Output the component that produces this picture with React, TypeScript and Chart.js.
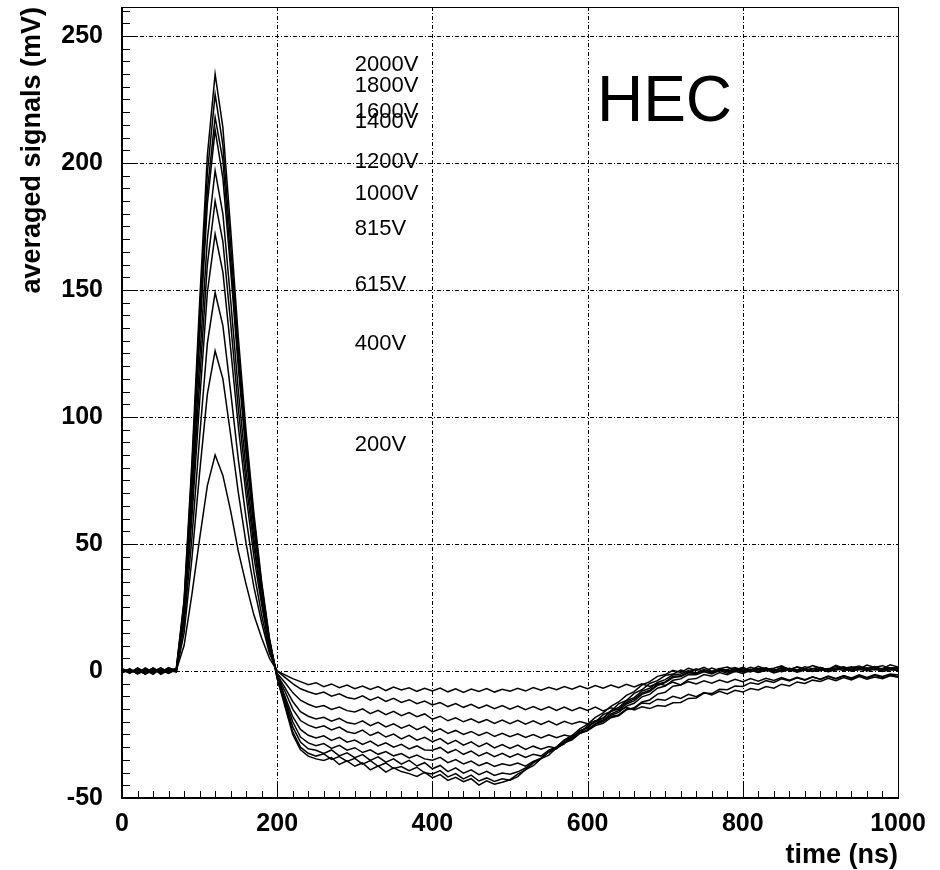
import React, { useEffect, useRef } from 'react';
import { Chart, registerables } from 'chart.js';
Chart.register(...registerables);

const FONT = '"Liberation Sans", Arial, Helvetica, sans-serif';

const timesNs = [
  0, 10, 20, 30, 40, 50, 60, 70, 80, 90,
  100, 110, 120, 130, 140, 150, 160, 170, 180, 190,
  200, 210, 220, 230, 240, 250, 260, 270, 280, 290,
  300, 310, 320, 330, 340, 350, 360, 370, 380, 390,
  400, 410, 420, 430, 440, 450, 460, 470, 480, 490,
  500, 510, 520, 530, 540, 550, 560, 570, 580, 590,
  600, 610, 620, 630, 640, 650, 660, 670, 680, 690,
  700, 710, 720, 730, 740, 750, 760, 770, 780, 790,
  800, 810, 820, 830, 840, 850, 860, 870, 880, 890,
  900, 910, 920, 930, 940, 950, 960, 970, 980, 990,
  1000,
];

const voltageLabels = ['2000V', '1800V', '1600V', '1400V', '1200V', '1000V', '815V', '615V', '400V', '200V'];
const labelLevels = [238.5, 230.5, 220, 216, 200.6, 188, 174, 152, 128.6, 88.8];
const labelTimeNs = 300;

const xTicks = [0, 200, 400, 600, 800, 1000];
const yTicks = [-50, 0, 50, 100, 150, 200, 250];

const v2000 = [0.6, -0.9, 1.2, -0.5, 1.1, -1.3, 0.4, 1, 28, 82,
  145, 203, 235, 214, 174, 131, 94, 62, 35, 13,
  -3, -14, -25, -31, -33.5, -34.6, -35.2, -34.1, -36.8, -35.4,
  -37.5, -36.2, -38.9, -37.4, -39.8, -38.1, -39.6, -40.4, -41.5, -39.9,
  -42, -40.8, -43.1, -41.9, -43.6, -42.4, -44.9, -43.2, -44.6, -43.8,
  -42.8, -40.6, -38.9, -36.2, -34.4, -31.8, -29.9, -27.1, -25.4, -22.8,
  -20.9, -18.3, -16.5, -13.9, -12.2, -9.6, -8.1, -5.5, -4.2, -2.1,
  -1.4, 0.3, -0.6, 1.1, 0.2, 1.4, -0.1, 0.9, 1.6, 0.4,
  1.5, 0.2, 1.8, 0.7, 1.1, 2, 0.5, 1.7, 0.9, 2.1,
  1.2, 0.6, 2.2, 1, 1.7, 0.8, 2.3, 1.4, 0.9, 2.4,
  1.6];

const v1800 = [-0.7, 0.9, -1.1, 0.6, -0.4, 1.2, -0.8, 0.8, 27, 79,
  140, 196, 227, 207, 168, 126, 91, 60, 34, 12,
  -3, -13, -24, -30, -32.4, -33.5, -32.6, -34.8, -33.7, -35.6,
  -34.4, -36.7, -35.3, -37.5, -36.2, -38.4, -37.6, -39.2, -37.9, -40.1,
  -40.5, -39.2, -41.7, -40.4, -42.5, -41, -43.3, -42.1, -43.5, -42.4,
  -43, -41.6, -38.8, -37.3, -34.5, -33.1, -30.2, -28.7, -25.8, -24.4,
  -21.5, -20.1, -17.2, -15.9, -12.9, -11.6, -8.8, -7.4, -4.9, -3.8,
  -1.8, -1.2, 0.4, -0.5, 0.9, -0.2, 1.2, 0.1, 0.6, 1.4,
  0.3, 1.5, 0.6, 1.1, -0.1, 1.6, 0.8, 0.3, 1.7, 0.9,
  1.4, 0.5, 1.9, 0.8, 1.3, 2, 0.7, 1.5, 2.1, 1.1,
  1.3];

const v1600 = [0.4, -0.6, 1, -1.2, 0.3, -0.5, 1.3, 0, 26, 76,
  135, 189, 218, 201, 162, 122, 88, 58, 33, 12,
  -2, -12, -22, -28, -30.6, -31.2, -32.5, -31.1, -33.4, -32.2,
  -34.1, -32.9, -35.2, -33.8, -35.9, -34.6, -36.7, -35.2, -37.4, -36.1,
  -38.5, -37.2, -39.6, -38.1, -40.2, -38.9, -40.8, -39.5, -41.1, -40.2,
  -40.6, -39.7, -38.2, -35.9, -34.5, -31.9, -30.6, -27.8, -26.5, -23.7,
  -22.4, -19.6, -18.5, -15.6, -14.4, -11.7, -10.5, -7.9, -6.8, -4.5,
  -3.4, -1.5, -1.2, 0.2, -0.8, 0.6, -0.4, 1, 0.2, -0.3,
  1.1, 0, 0.8, 1.3, 0.1, 1.2, 0.5, 1.5, 0.2, 0.9,
  1.4, 0.3, 1.2, 1.7, 0.6, 1.5, 0.9, 1.8, 0.5, 1.3,
  1];

const v1400 = [-0.5, 0.7, -0.9, 0.4, -1.3, 1, -0.6, 0.5, 25, 74,
  131, 184, 213, 194, 158, 119, 85, 56, 32, 12,
  -2, -11, -20, -26, -28.3, -29.4, -28.6, -30.5, -29.3, -31.2,
  -30.2, -32.1, -31, -32.8, -31.7, -33.4, -32.5, -34.2, -33.1, -34.6,
  -35.1, -34, -36.1, -34.9, -36.6, -35.5, -37.3, -36.1, -37.6, -36.5,
  -37.2, -36.2, -37.5, -35.6, -34.3, -31.9, -30.6, -28.2, -26.9, -24.4,
  -23.1, -20.7, -19.3, -16.9, -15.6, -13, -11.8, -9.2, -8.1, -5.7,
  -4.6, -2.6, -2.2, -0.7, -1, 0.4, -0.8, 0.6, -0.3, 0.9,
  0.2, -0.4, 1, 0.1, 0.7, -0.2, 1.1, 0.3, 0.9, 0,
  1.2, 0.4, 0.8, 1.4, 0.2, 1.1, 0.6, 1.5, 0.3, 1,
  0.8];

const v1200 = [0.8, -0.4, 0.5, -1.1, 0.9, -0.2, 0.3, -0.4, 23, 69,
  122, 170, 197, 180, 146, 110, 79, 52, 29, 11,
  -2, -10, -18, -23, -25.3, -26.4, -25.5, -27.3, -26.1, -28,
  -27.2, -28.9, -27.6, -29.5, -28.3, -30, -28.9, -30.7, -29.5, -31.1,
  -31.2, -30.1, -32.2, -30.9, -32.8, -31.5, -33.4, -32.1, -33.7, -32.4,
  -33.9, -32.6, -34, -32.8, -33.5, -31.2, -29.9, -27.3, -26.1, -23.5,
  -22.3, -19.8, -18.6, -16, -14.9, -12.4, -11.1, -8.7, -7.6, -5.2,
  -4.3, -2.2, -1.9, -0.4, -1.1, 0.3, -0.7, 0.5, -0.2, 0.8,
  -0.3, 0.7, 0, 0.9, -0.2, 0.6, 1, -0.1, 0.8, 0.3,
  0.1, 1, 0.4, 1.2, 0.2, 0.7, 1.3, 0.4, 1, 0.6,
  0.6];

const v1000 = [-0.3, 0.6, -0.8, 1.2, -0.5, 0.4, -1, 0.6, 22, 65,
  114, 160, 185, 169, 137, 103, 74, 49, 28, 10,
  -2, -8, -15, -19.5, -21.3, -22.4, -21.6, -23.2, -22.1, -23.9,
  -24.6, -23.3, -25.4, -24.1, -26, -24.8, -26.7, -25.3, -27.2, -26.1,
  -27.8, -26.6, -28.7, -27.3, -29.2, -27.9, -29.8, -28.4, -30.3, -29,
  -30.5, -29.2, -30.9, -29.6, -30.8, -29.7, -30.4, -28.3, -27.1, -24.6,
  -23.5, -21, -19.9, -17.4, -16.3, -13.8, -12.7, -10.2, -9.2, -6.8,
  -5.9, -3.6, -3.1, -1.4, -1.5, -0.3, -1.2, 0.2, -0.9, 0.3,
  -0.4, 0.6, -0.5, 0.2, 0.7, -0.3, 0.5, -0.1, 0.8, 0.1,
  0.6, -0.2, 0.9, 0.2, 0.7, 1, 0, 0.8, 0.3, 1.1,
  0.5];

const v815 = [0.5, -0.7, 0.3, -1.2, 0.8, -0.9, 1.1, -0.2, 20, 60,
  106, 149, 172, 157, 127, 96, 69, 45, 26, 9,
  -1.5, -6.5, -12, -16, -17.8, -18.9, -18.2, -19.8, -18.6, -20.3,
  -20.9, -19.6, -21.5, -20.2, -22, -20.8, -22.5, -21.3, -23.1, -21.8,
  -24, -22.8, -24.6, -23.4, -25, -23.8, -25.4, -24.1, -25.8, -24.5,
  -25.9, -24.7, -26.2, -25, -26.4, -25.1, -26.3, -25.2, -25.9, -24.4,
  -23.5, -21.5, -20.6, -18.4, -17.6, -15.3, -14.5, -12.2, -11.4, -9.1,
  -8.4, -6, -5.5, -3.3, -3, -1.4, -2.1, -0.6, -1.5, -0.1,
  -1, 0.3, -0.6, 0.5, -0.8, 0.1, 0.6, -0.5, 0.4, -0.2,
  0.7, -0.3, 0.5, 0.9, -0.1, 0.6, 0.2, 0.9, -0.2, 0.5,
  0.2];

const v615 = [-0.6, 0.3, -0.9, 0.7, -0.2, 1.1, -0.4, 0.2, 18, 52,
  92, 129, 149, 136, 110, 83, 60, 39, 22, 8,
  -1, -4.5, -8.5, -11.5, -13.1, -14.3, -13.6, -15.1, -14.2, -15.6,
  -16.1, -14.9, -16.8, -15.5, -17.2, -15.9, -17.6, -16.4, -18, -16.9,
  -19, -17.8, -19.6, -18.4, -20, -18.8, -20.3, -19.1, -20.6, -19.3,
  -20.7, -19.4, -20.9, -19.6, -21, -19.7, -21.2, -19.8, -20.9, -19.9,
  -20.8, -19.6, -19.8, -17.9, -17.3, -15, -14.8, -12.6, -12.9, -11.1,
  -11.5, -10, -10.8, -9.2, -10.1, -8.5, -9.4, -8, -9, -7.6,
  -8.3, -6.9, -7.5, -6.1, -6.8, -5.2, -5.9, -4.3, -4.9, -3.6,
  -4.1, -2.9, -3.8, -2.6, -3.5, -2.2, -3.2, -2.4, -3, -1.9,
  -2.5];

const v400 = [0.9, -0.3, 0.6, -0.7, 1.2, -0.5, 0.8, -0.1, 15, 44,
  78, 109, 126, 115, 93, 70, 50, 33, 19, 7,
  0, -2.5, -5, -7, -8.2, -9.1, -8.3, -9.9, -9, -10.4,
  -11, -9.8, -11.5, -10.3, -12, -10.8, -12.4, -11.3, -12.9, -11.8,
  -13.4, -12.4, -14, -12.8, -14.3, -13.1, -14.6, -13.4, -14.8, -13.6,
  -15, -13.8, -15.2, -14, -15.3, -14.1, -15.5, -14.2, -15.6, -14.4,
  -15.5, -14.2, -15.7, -14.5, -15.4, -14.3, -15.3, -14.1, -14.8, -13.6,
  -13.9, -12.5, -12.4, -10.8, -10.6, -8.7, -8.9, -7.2, -7.4, -5.9,
  -6.1, -4.6, -5.2, -3.8, -4.5, -3.1, -3.9, -2.7, -3.6, -2.4,
  -3.2, -2, -2.9, -1.8, -2.7, -1.5, -2.5, -1.4, -2.2, -1.2,
  -1.6];

const v200 = [-0.4, 0.7, -1.1, 0.3, -0.9, 0.6, -0.2, 0.4, 10, 30,
  52, 73, 85, 77, 63, 47, 34, 22, 13, 5,
  0, -1.5, -3, -4.2, -5.4, -4.6, -6.2, -5.1, -6.6, -5.5,
  -7, -5.9, -7.3, -6.1, -7.7, -6.3, -7.5, -6.6, -8, -6.8,
  -7.9, -6.7, -8.2, -7, -8.4, -7.1, -8.1, -6.9, -8.3, -7.2,
  -8, -6.8, -7.9, -6.5, -7.6, -6.4, -7.4, -6.1, -7.2, -5.9,
  -7, -5.7, -6.8, -5.5, -6.6, -5.2, -6.3, -5, -6.1, -4.8,
  -5.7, -4.4, -5.5, -4.2, -5.1, -3.9, -4.8, -3.6, -4.5, -3.3,
  -4.2, -3, -4, -2.9, -3.7, -2.6, -3.6, -2.5, -3.4, -2.3,
  -3.3, -2.2, -3.1, -2, -3, -1.9, -2.8, -1.7, -2.6, -1.6,
  -2.2];

const seriesValues = [v2000, v1800, v1600, v1400, v1200, v1000, v815, v615, v400, v200];

export default function App() {
  const ref = useRef<HTMLCanvasElement>(null);

  useEffect(() => {
    document.body.style.margin = '0';
    const canvas = ref.current;
    if (!canvas) return;

    const rootPlugin = {
      id: 'rootStyle',
      beforeDatasetsDraw(chart: any) {
        const { ctx, chartArea: a, scales } = chart;
        const xs = scales.x;
        const ys = scales.y;
        ctx.save();
        ctx.strokeStyle = '#000';
        ctx.lineWidth = 1;
        ctx.setLineDash([4, 2, 1, 2]);
        ctx.beginPath();
        for (const t of xTicks) {
          const px = Math.round(xs.getPixelForValue(t)) + 0.5;
          ctx.moveTo(px, a.top);
          ctx.lineTo(px, a.bottom);
        }
        for (const v of yTicks) {
          const py = Math.round(ys.getPixelForValue(v)) + 0.5;
          ctx.moveTo(a.left, py);
          ctx.lineTo(a.right, py);
        }
        ctx.stroke();
        ctx.restore();
      },
      afterDatasetsDraw(chart: any) {
        const { ctx, chartArea: a, scales } = chart;
        const xs = scales.x;
        const ys = scales.y;
        ctx.save();
        ctx.setLineDash([]);
        ctx.strokeStyle = '#000';
        // frame
        ctx.lineWidth = 1;
        ctx.beginPath();
        ctx.moveTo(a.left, Math.round(a.top) + 0.5);
        ctx.lineTo(a.right, Math.round(a.top) + 0.5);
        ctx.moveTo(Math.round(a.right) + 0.5, a.top);
        ctx.lineTo(Math.round(a.right) + 0.5, a.bottom);
        ctx.stroke();
        ctx.lineWidth = 2;
        ctx.beginPath();
        ctx.moveTo(Math.round(a.left), a.top);
        ctx.lineTo(Math.round(a.left), a.bottom + 1);
        ctx.moveTo(a.left - 1, Math.round(a.bottom));
        ctx.lineTo(a.right + 1, Math.round(a.bottom));
        ctx.stroke();
        // ticks
        ctx.lineWidth = 1;
        ctx.beginPath();
        for (let t = 0; t <= 1000; t += 20) {
          const px = Math.round(xs.getPixelForValue(t)) + 0.5;
          const len = t % 200 === 0 ? 14 : 7;
          ctx.moveTo(px, a.bottom);
          ctx.lineTo(px, a.bottom - len);
        }
        for (let v = -50; v <= 261; v += 5) {
          const py = Math.round(ys.getPixelForValue(v)) + 0.5;
          const len = v % 50 === 0 ? 15 : 8;
          ctx.moveTo(a.left, py);
          ctx.lineTo(a.left + len, py);
        }
        ctx.stroke();

        // voltage labels
        ctx.fillStyle = '#000';
        ctx.font = `22px ${FONT}`;
        ctx.textAlign = 'left';
        ctx.textBaseline = 'middle';
        voltageLabels.forEach((lab, i) => {
          ctx.fillText(lab, xs.getPixelForValue(labelTimeNs), ys.getPixelForValue(labelLevels[i]));
        });

        // HEC
        ctx.font = `64px ${FONT}`;
        ctx.textBaseline = 'alphabetic';
        ctx.fillText('HEC', xs.getPixelForValue(612), ys.getPixelForValue(216.4));

        // axis titles
        ctx.font = `bold 27px ${FONT}`;
        ctx.textAlign = 'right';
        ctx.textBaseline = 'alphabetic';
        ctx.fillText('time (ns)', a.right, a.bottom + 65);

        ctx.save();
        ctx.translate(40, a.top + 0);
        ctx.rotate(-Math.PI / 2);
        ctx.textAlign = 'right';
        ctx.fillText('averaged signals (mV)', 0, 0);
        ctx.restore();

        ctx.restore();
      },
    };

    const chart = new Chart(canvas, {
      type: 'line',
      data: {
        datasets: seriesValues.map((vals, i) => ({
          label: voltageLabels[i],
          data: vals.map((v, j) => ({ x: timesNs[j], y: v })),
          borderColor: '#000',
          borderWidth: 1.5,
          pointRadius: 0,
          tension: 0,
          fill: false,
        })),
      },
      options: {
        responsive: false,
        animation: false,
        events: [],
        layout: { padding: { left: 0, right: 42, top: 7, bottom: 0 } },
        plugins: {
          legend: { display: false },
          tooltip: { enabled: false },
          title: { display: false },
        },
        scales: {
          x: {
            type: 'linear',
            min: 0,
            max: 1000,
            grid: { display: false, drawTicks: false },
            border: { display: false },
            ticks: {
              stepSize: 200,
              padding: 11,
              maxRotation: 0,
              color: '#000',
              font: { family: FONT, size: 25, weight: 'bold' },
              callback: (v: any) => String(v),
            },
            afterBuildTicks: (s: any) => {
              s.ticks = xTicks.map((v) => ({ value: v }));
            },
            afterFit: (s: any) => {
              s.height = 72;
              s.paddingLeft = 0;
              s.paddingRight = 0;
            },
          },
          y: {
            type: 'linear',
            min: -50,
            max: 261.4,
            grid: { display: false, drawTicks: false },
            border: { display: false },
            ticks: {
              padding: 19,
              color: '#000',
              font: { family: FONT, size: 25, weight: 'bold' },
              callback: (v: any) => String(v),
            },
            afterBuildTicks: (s: any) => {
              s.ticks = yTicks.map((v) => ({ value: v }));
            },
            afterFit: (s: any) => {
              s.width = 122;
              s.paddingTop = 0;
              s.paddingBottom = 0;
            },
          },
        },
      },
      plugins: [rootPlugin],
    } as any);

    return () => chart.destroy();
  }, []);

  return (
    <div style={{ width: 940, height: 870, background: '#fff' }}>
      <canvas ref={ref} width={940} height={870} style={{ display: 'block' }} />
    </div>
  );
}
